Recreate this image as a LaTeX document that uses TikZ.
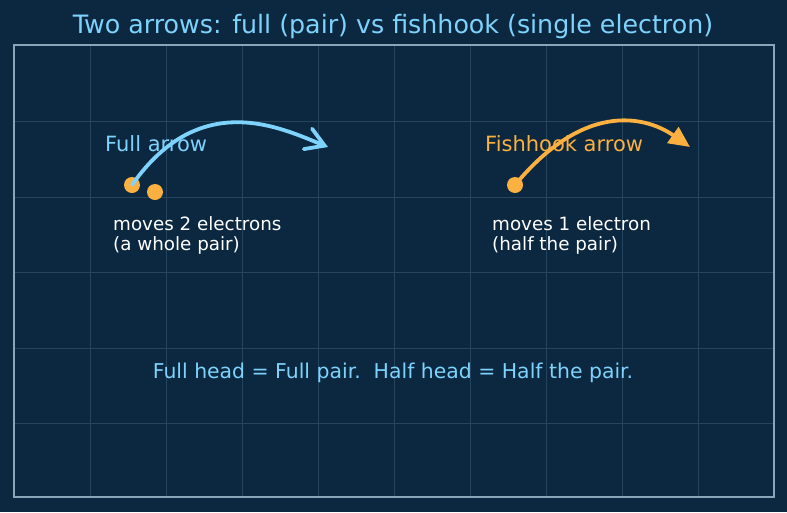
\documentclass[tikz,border=0pt]{standalone}
\usepackage{fontspec}
\setmainfont{DejaVu Sans}
\usetikzlibrary{arrows.meta}
\definecolor{bg}{HTML}{0B2840}
\definecolor{gridc}{HTML}{25445E}
\definecolor{framec}{HTML}{8AA4B8}
\definecolor{skyc}{HTML}{7DD3FC}
\definecolor{orangec}{HTML}{FBB040}
\tikzset{
  lbl/.style={inner sep=0pt, anchor=west, font=\fontsize{21}{24}\selectfont},
  desc/.style={inner sep=0pt, anchor=west, align=left, text=white, font=\fontsize{18.3}{20}\selectfont},
  dot/.style={circle, fill=orangec, minimum size=16pt, inner sep=0pt},
}
\begin{document}
\begin{tikzpicture}[x=1pt,y=-1pt]
\fill[bg] (0,0) rectangle (787,512);
\useasboundingbox (0,0) rectangle (787,512);
% grid
\foreach \x in {90,166,242,318,394,470,546,622,698}
  \draw[gridc, line width=0.8pt] (\x,45) -- (\x,497);
\foreach \y in {121,197,272,348,423}
  \draw[gridc, line width=0.8pt] (14,\y) -- (774,\y);
\draw[framec, line width=1.5pt] (14,45) rectangle (774,497);
% title
\node[inner sep=0pt, text=skyc, font=\fontsize{25.3}{28}\selectfont] (title) at (393,27) {Two arrows: full (pair) vs fishhook (single electron)};
% full arrow
\node[lbl, text=skyc] (fulllbl) at (105,144) {Full arrow};
\node[dot] (d1) at (132,185) {};
\node[dot] (d2) at (155,192) {};
\coordinate (fullend) at (328,147);
\draw[skyc, line width=3.8pt, line cap=round, -{Straight Barb[length=18pt, width=22pt, line cap=round]}]
  (d1.center) .. controls (200,88) and (281,128) .. (fullend);
\node[desc] (fulldesc) at (113,235) {moves 2 electrons\\(a whole pair)};
% fishhook arrow
\node[lbl, text=orangec] (fishlbl) at (485,144) {Fishhook arrow};
\node[dot] (d3) at (515,185) {};
\coordinate (fishend) at (690,147);
\draw[orangec, line width=3.8pt, line cap=round, -{Triangle[length=21pt, width=19pt]}]
  (d3.center) .. controls (588,97) and (650,119) .. (fishend);
\node[desc] (fishdesc) at (492,235) {moves 1 electron\\(half the pair)};
% bottom
\node[inner sep=0pt, text=skyc, font=\fontsize{20.4}{24}\selectfont] (bottom) at (393,373) {Full head = Full pair.\ \ Half head = Half the pair.};
\end{tikzpicture}
\end{document}
